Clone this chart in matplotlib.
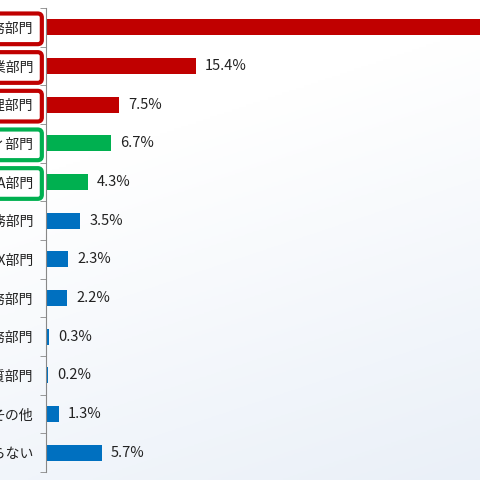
import numpy as np
import matplotlib.pyplot as plt

plt.rcParams['font.family'] = ['Noto Sans CJK JP', 'DejaVu Sans']

labels = ["総務部門", "事業部門", "経理部門", "セキュリティ部門", "IA部門", "法務部門",
          "DX部門", "業務部門", "財務部門", "品質部門", "その他", "わからない"]
values = [48.0, 15.4, 7.5, 6.7, 4.3, 3.5, 2.3, 2.2, 0.3, 0.2, 1.3, 5.7]
groups = ["red", "red", "red", "green", "green", "blue", "blue", "blue", "blue", "blue", "blue", "blue"]

palette = {"red": "#C00000", "green": "#00B050", "blue": "#0070C0"}
colors = [palette[g] for g in groups]

fig = plt.figure(figsize=(4.8, 4.8), dpi=100)

# soft background gradient
bg = fig.add_axes([0, 0, 1, 1], zorder=-1)
yy, xx = np.mgrid[0:1:200j, 0:1:200j]
grad = np.clip(yy * 0.9 + xx * 0.3 - 0.35, 0, 1)
bg.imshow(grad, cmap=plt.matplotlib.colors.LinearSegmentedColormap.from_list(
    "bg", ["#ffffff", "#eaf0f8"]), extent=[0, 1, 0, 1], aspect="auto", origin="upper")
bg.axis("off")

ax = fig.add_axes([46 / 480, 8 / 480, 1 - 46 / 480, 464 / 480])
ax.patch.set_alpha(0)

y = np.arange(len(labels))
ax.barh(y, values, height=0.41, color=colors)
ax.set_xlim(0, 44.5)
ax.set_ylim(len(labels) - 0.5, -0.5)

for yi, v in zip(y, values):
    ax.annotate(f"{v:.1f}%", (v, yi), xytext=(6.5, 0), textcoords="offset points",
                va="center", ha="left", fontsize=10.5, color="#222222", annotation_clip=False)

for s in ["top", "right", "bottom"]:
    ax.spines[s].set_visible(False)
ax.spines["left"].set_color("#888888")
ax.set_xticks([])

ax.set_yticks(y)
ax.set_yticklabels(labels, fontsize=10, color="#222222")
ax.tick_params(axis="y", which="major", length=0, pad=9)
ax.set_yticks(np.arange(-0.5, len(labels)), minor=True)
ax.tick_params(axis="y", which="minor", length=4, color="#888888")

for lab, g in zip(ax.get_yticklabels(), groups):
    if g != "blue":
        lab.set_bbox(dict(boxstyle="round,pad=0.6,rounding_size=0.3",
                          facecolor="white", edgecolor=palette[g], linewidth=3))

fig.savefig("out.png", dpi=100)
